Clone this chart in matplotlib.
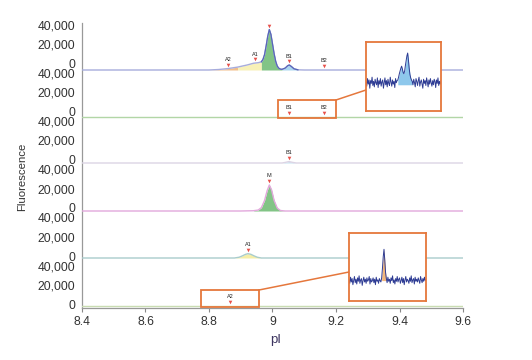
import numpy as np
import matplotlib
matplotlib.use("Agg")
import matplotlib.pyplot as plt
from matplotlib.lines import Line2D
from matplotlib.patches import Rectangle

# ---------------- data ----------------
ytick_values = [0, 20000, 40000]
ytick_labels = ["0", "20,000", "40,000"]
xtick_values = [8.4, 8.6, 8.8, 9.0, 9.2, 9.4, 9.6]
xtick_labels = ["8.4", "8.6", "8.8", "9", "9.2", "9.4", "9.6"]

# panel 1 (top): full profile
p1_x = [8.40, 8.80, 8.83, 8.86, 8.89, 8.92, 8.94, 8.955, 8.965, 8.97, 8.975, 8.98,
        8.985, 8.99, 8.995, 9.00, 9.005, 9.01, 9.015, 9.02, 9.025, 9.03, 9.04, 9.048,
        9.053, 9.06, 9.068, 9.08, 9.10, 9.60]
p1_y = [0, 0, 500, 1500, 3000, 5200, 7000, 7600, 8500, 11000, 16000, 25000,
        35000, 42000, 37000, 27000, 17000, 9000, 4000, 1800, 900, 700, 2000, 4500,
        5200, 3500, 1200, 200, 0, 0]
p1_peaks = ["A2", "A1", "", "B1", "B2"]
p1_peak_x = [8.86, 8.945, 8.99, 9.052, 9.162]

# panel 2: flat, markers only
p2_x = [8.40, 9.60]
p2_y = [0, 0]
p2_peaks = ["B1", "B2"]
p2_peak_x = [9.052, 9.162]

# panel 3: tiny B1 bump
p3_x = [8.40, 9.03, 9.04, 9.052, 9.064, 9.075, 9.60]
p3_y = [0, 0, 600, 1500, 600, 0, 0]
p3_peaks = ["B1"]
p3_peak_x = [9.052]

# panel 4: main peak M
p4_x = [8.40, 8.90, 8.94, 8.955, 8.965, 8.975, 8.983, 8.99, 8.997, 9.005, 9.015,
        9.025, 9.04, 9.60]
p4_y = [0, 0, 300, 1000, 3500, 11000, 21000, 27000, 22000, 11000, 3000, 500, 0, 0]
p4_peaks = ["M"]
p4_peak_x = [8.99]

# panel 5: A1 peak
p5_x = [8.40, 8.88, 8.895, 8.905, 8.915, 8.923, 8.932, 8.942, 8.952, 8.965, 9.60]
p5_y = [0, 0, 800, 2200, 3800, 4500, 3800, 2200, 800, 0, 0]
p5_peaks = ["A1"]
p5_peak_x = [8.923]

# panel 6: flat, A2 marker
p6_x = [8.40, 9.60]
p6_y = [0, 0]
p6_peaks = ["A2"]
p6_peak_x = [8.866]

# inset signals (zoomed noisy traces)
inset1_signal = [42, 36, 47, 39, 45, 33, 44, 40, 49, 37, 43, 35, 46, 41, 38, 48, 34, 44, 39, 47,
                 36, 42, 45, 33, 41, 48, 38, 44, 35, 46, 40, 37, 49, 42, 36, 45, 39, 43, 34, 47,
                 41, 44,
                 45, 49, 54, 58, 62, 65, 61, 56, 54, 58, 66, 73, 80, 84, 74, 62, 53, 48, 45, 43,
                 38, 46, 41, 35, 47, 43, 37, 44, 49, 36, 42, 45, 39, 33, 46, 40, 44, 37, 48, 42,
                 35, 45, 39, 47, 41, 36, 44, 38, 46, 43, 34, 45, 40, 48, 37, 43, 39, 44]
inset2_signal = [31, 26, 35, 28, 33, 24, 30, 36, 27, 32, 25, 34, 29, 37, 26, 31, 33, 23, 30, 35,
                 28, 32, 26, 34, 29, 31, 36, 25, 33, 28, 30, 34, 27, 32, 24, 35, 29, 31, 26, 33,
                 30, 28,
                 34, 48, 65, 76, 60, 42, 33, 27,
                 35, 29, 32, 26, 34, 30, 37, 27, 31, 25, 33, 29, 36, 28, 32, 34, 26, 30, 35, 27,
                 33, 24, 31, 36, 28, 32, 30, 26, 34, 29, 37, 27, 31, 33, 25, 35, 29, 32, 28, 34,
                 30, 26, 36, 31, 27, 33, 29, 35, 30, 32]

# ---------------- layout / style ----------------
W, H = 532, 360
fig = plt.figure(figsize=(W / 100, H / 100), dpi=100)
FONT = ["Liberation Sans", "DejaVu Sans"]
plt.rcParams['font.family'] = FONT

def fx(px):
    return px / W

def fy(py):
    return 1 - py / H

ax = fig.add_axes([fx(82), fy(308), fx(463) - fx(82), fy(23) - fy(308)])
ymin, ymax = -4000, 292000
ax.set_xlim(8.4, 9.6)
ax.set_ylim(ymin, ymax)

def py_to_data(py):
    return (308 - py) / 285 * (ymax - ymin) + ymin

panel_offsets = [250000, 200000, 150000, 100000, 50000, 0]
trace_base = [py_to_data(p) for p in [70, 117, 163, 211, 258, 306]]
line_colors = ["#a7acdc", "#b2d6a6", "#dcd4e4", "#e2a8dc", "#a9cccc", "#c9dcb2"]

yt, yl = [], []
for off in panel_offsets:
    for v, l in zip(ytick_values, ytick_labels):
        yt.append(off + v)
        yl.append(l)
ax.set_yticks(yt)
ax.set_yticklabels(yl, fontsize=8.7, color="#333333")
ax.tick_params(axis="y", length=0, pad=5)
ax.set_xticks(xtick_values)
ax.set_xticklabels(xtick_labels, fontsize=8.7, color="#333333")
ax.tick_params(axis="x", length=3, width=0.8, color="#888888", pad=3)
for s in ["top", "right"]:
    ax.spines[s].set_visible(False)
for s in ["left", "bottom"]:
    ax.spines[s].set_color("#999999")
    ax.spines[s].set_linewidth(0.9)

panels = [
    (p1_x, p1_y, p1_peaks, p1_peak_x),
    (p2_x, p2_y, p2_peaks, p2_peak_x),
    (p3_x, p3_y, p3_peaks, p3_peak_x),
    (p4_x, p4_y, p4_peaks, p4_peak_x),
    (p5_x, p5_y, p5_peaks, p5_peak_x),
    (p6_x, p6_y, p6_peaks, p6_peak_x),
]

fills = {
    0: [(8.80, 8.89, "#f3be8a"), (8.89, 8.965, "#f8f1b8"), (8.965, 9.03, "#82c486"),
        (9.03, 9.08, "#aad6f0")],
    2: [(9.03, 9.075, "#c4e0f0")],
    3: [(8.94, 9.04, "#82c486")],
    4: [(8.88, 8.965, "#f5eea6")],
}

for i, (xs, ys, names, pxs) in enumerate(panels):
    xs = np.array(xs)
    ys = np.array(ys, dtype=float)
    base = trace_base[i]
    for (a, b, c) in fills.get(i, []):
        m = (xs >= a - 1e-9) & (xs <= b + 1e-9)
        ax.fill_between(xs, base, base + ys, where=m, color=c, lw=0, zorder=2)
    ax.plot(xs, base + ys, color=line_colors[i], lw=1.0, zorder=3)
    if i == 0:
        m = (xs >= 8.965) & (xs <= 9.08)
        ax.plot(xs[m], base + ys[m], color="#5866b8", lw=0.9, zorder=3)
    for name, px in zip(names, pxs):
        h = np.interp(px, xs, ys)
        my = base + h + 3800
        ax.plot([px], [my], marker="v", ms=2.6, color="#e8504a", mec="none", zorder=4)
        if name:
            ax.text(px, my + 3000, name, fontsize=4, ha="center", va="bottom",
                    color="#222222", zorder=4)

# highlight boxes in main axes
orange = "#e5773c"
def add_box(x0px, x1px, y0px, y1px):
    x0 = 8.4 + (x0px - 82) / 317.5
    x1 = 8.4 + (x1px - 82) / 317.5
    yb = py_to_data(y1px)
    yt_ = py_to_data(y0px)
    ax.add_patch(Rectangle((x0, yb), x1 - x0, yt_ - yb, fill=False, ec=orange,
                           lw=1.3, zorder=5, clip_on=False))

add_box(278, 336, 100, 118)
add_box(201, 259, 290, 307)

# connector lines
fig.add_artist(Line2D([fx(336), fx(366)], [fy(100), fy(90)], color=orange, lw=1.1,
                      transform=fig.transFigure, zorder=6))
fig.add_artist(Line2D([fx(259), fx(349)], [fy(290), fy(272)], color=orange, lw=1.1,
                      transform=fig.transFigure, zorder=6))

# insets
def make_inset(x0, x1, y0, y1, sig, fill_rng, fill_c, fill_base):
    ia = fig.add_axes([fx(x0), fy(y1), fx(x1) - fx(x0), fy(y0) - fy(y1)])
    ia.set_facecolor("white")
    ia.set_zorder(10)
    xs = np.arange(len(sig))
    ys = np.array(sig, dtype=float)
    m = (xs >= fill_rng[0]) & (xs <= fill_rng[1])
    ia.fill_between(xs, fill_base, ys, where=m, color=fill_c, lw=0)
    ia.plot(xs, ys, color="#2e3c94", lw=0.7)
    ia.set_xlim(0, len(sig) - 1)
    ia.set_ylim(0, 100)
    ia.set_xticks([])
    ia.set_yticks([])
    for s in ia.spines.values():
        s.set_color(orange)
        s.set_linewidth(1.3)
    return ia

make_inset(366, 441, 42, 111, inset1_signal, (42, 61), "#8ec8ec", 38)
make_inset(349, 426, 233, 301, inset2_signal, (42, 48), "#f2b67a", 30)

fig.text(fx(22), fy(177), "Fluorescence", rotation=90, fontsize=8.2, color="#333333",
         ha="center", va="center")
fig.text(fx(276), fy(340), "pI", fontsize=9.5, color="#3d3560", ha="center", va="center")

fig.savefig("out.png", dpi=100)
